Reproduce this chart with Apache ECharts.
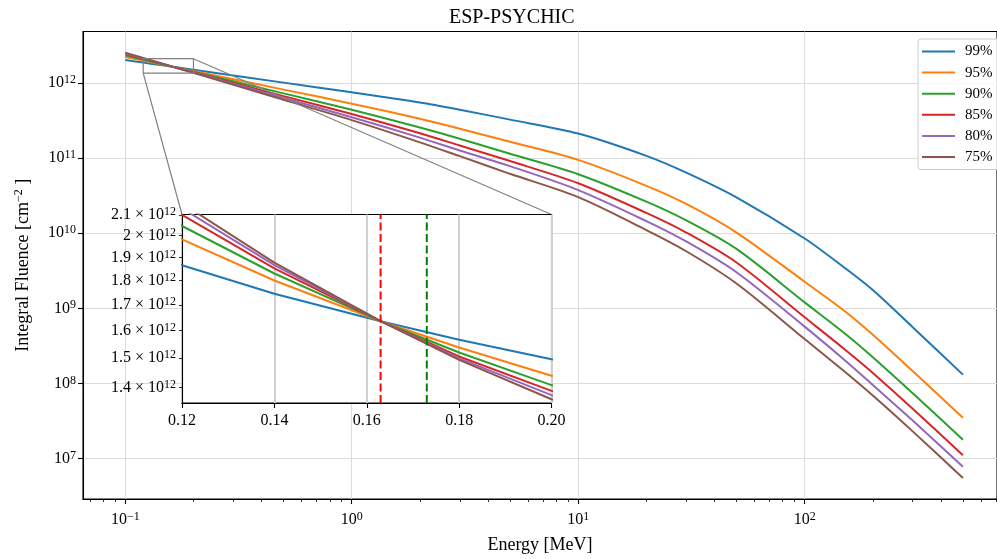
<!DOCTYPE html>
<html><head><meta charset="utf-8">
<script src="https://cdn.jsdelivr.net/npm/echarts@6/dist/echarts.min.js"></script>
<style>html,body{margin:0;padding:0;background:#fff}#c{width:997px;height:559px}</style>
</head><body><div id="c"></div>
<script>
// ---------- data ----------
const energies = [0.1, 0.12, 0.14, 0.163, 0.18, 0.2, 0.5, 1, 2, 3, 5, 10, 20, 30, 50, 100, 150, 200, 300, 500];
const seriesNames = ['99%', '95%', '90%', '85%', '80%', '75%'];
const fluence99 = [2.02e12, 1.866e12, 1.745e12, 1.636e12, 1.566e12, 1.496e12, 1.01e12, 7.52e11, 5.5e11, 4.4e11, 3.25e11, 2.12e11, 1.07e11, 6.4e10, 3.0e10, 8.5e9, 3.47e9, 1.75e9, 5.6e8, 1.31e8];
const fluence95 = [2.22e12, 1.983e12, 1.800e12, 1.636e12, 1.538e12, 1.439e12, 8.15e11, 5.3e11, 3.34e11, 2.46e11, 1.65e11, 9.45e10, 4.27e10, 2.45e10, 1.02e10, 2.26e9, 9.2e8, 4.45e8, 1.46e8, 3.5e7];
const fluence90 = [2.33e12, 2.046e12, 1.830e12, 1.636e12, 1.520e12, 1.408e12, 7.26e11, 4.4e11, 2.55e11, 1.81e11, 1.14e11, 6.1e10, 2.63e10, 1.48e10, 6.17e9, 1.2e9, 4.65e8, 2.23e8, 7.4e7, 1.78e7];
const fluence85 = [2.42e12, 2.10e12, 1.852e12, 1.636e12, 1.506e12, 1.389e12, 6.68e11, 3.85e11, 2.14e11, 1.47e11, 9.12e10, 4.62e10, 1.86e10, 1.02e10, 4.07e9, 7.6e8, 2.85e8, 1.38e8, 4.6e7, 1.11e7];
const fluence80 = [2.47e12, 2.133e12, 1.866e12, 1.636e12, 1.499e12, 1.375e12, 6.3e11, 3.5e11, 1.87e11, 1.26e11, 7.8e10, 3.75e10, 1.45e10, 7.76e9, 3.02e9, 5.7e8, 2.05e8, 9.5e7, 3.2e7, 7.8e6];
const fluence75 = [2.53e12, 2.158e12, 1.877e12, 1.636e12, 1.494e12, 1.362e12, 5.97e11, 3.2e11, 1.62e11, 1.06e11, 6.17e10, 3.02e10, 1.1e10, 5.75e9, 2.14e9, 3.9e8, 1.44e8, 6.9e7, 2.3e7, 5.5e6];

const xMajorTicks = [0.1, 1, 10, 100];
const xMinorTicks = [0.07, 0.08, 0.09, 0.2, 0.3, 0.4, 0.5, 0.6, 0.7, 0.8, 0.9, 2, 3, 4, 5, 6, 7, 8, 9, 20, 30, 40, 50, 60, 70, 80, 90, 200, 300, 400, 500, 600, 700];
const yMajorTicks = [1e7, 1e8, 1e9, 1e10, 1e11, 1e12];
const yMinorTicks = [3e6, 4e6, 5e6, 6e6, 7e6, 8e6, 9e6, 2e7, 3e7, 4e7, 5e7, 6e7, 7e7, 8e7, 9e7, 2e8, 3e8, 4e8, 5e8, 6e8, 7e8, 8e8, 9e8, 2e9, 3e9, 4e9, 5e9, 6e9, 7e9, 8e9, 9e9, 2e10, 3e10, 4e10, 5e10, 6e10, 7e10, 8e10, 9e10, 2e11, 3e11, 4e11, 5e11, 6e11, 7e11, 8e11, 9e11, 2e12, 3e12, 4e12];
const insetXTicks = [0.12, 0.14, 0.16, 0.18, 0.20];
const insetYTicks = [1.4e12, 1.5e12, 1.6e12, 1.7e12, 1.8e12, 1.9e12, 2.0e12, 2.1e12];
const insetXRange = [0.12, 0.20];
const insetYRange = [1.35e12, 2.102e12];
const markRedX = 0.163;
const markGreenX = 0.173;
const mainXRange = [0.06506, 707];
const mainYRange = [2.894e6, 4.84e12];

// ---------- styles ----------
const colors = ['#1f77b4', '#ff7f0e', '#2ca02c', '#d62728', '#9467bd', '#8c564b'];
const FF = 'Liberation Serif';
const allSeries = [fluence99, fluence95, fluence90, fluence85, fluence80, fluence75];

function powLabel(v) {
  const e = Math.round(Math.log10(v));
  return '{b|10}{s|' + (e < 0 ? '\u2212' + (-e) : e) + '}';
}
function insetYLabel(v) {
  const m = Math.round(v / 1e11) / 10;
  const t = Number.isInteger(m) ? String(m) : m.toFixed(1);
  return '{b|' + t + ' \u00d7 10}{s|12}';
}
const richPow = {
  b: { fontFamily: FF, fontSize: 16, color: '#000', lineHeight: 18 },
  s: { fontFamily: FF, fontSize: 12, color: '#000', lineHeight: 11, verticalAlign: 'top' }
};

const chart = echarts.init(document.getElementById('c'), null, { renderer: 'canvas' });

const series = [];
allSeries.forEach((arr, i) => {
  series.push({
    name: seriesNames[i], type: 'line', xAxisIndex: 0, yAxisIndex: 0,
    data: energies.map((e, k) => [e, arr[k]]),
    showSymbol: false, symbol: 'none', smooth: 0.3, clip: true,
    lineStyle: { color: colors[i], width: 2 }, itemStyle: { color: colors[i] },
    z: 2, silent: true
  });
});
// zoom box on main axes
const boxIdx = series.length;
series.push({
  type: 'line', xAxisIndex: 0, yAxisIndex: 0, symbol: 'none', silent: true, z: 4,
  data: [[insetXRange[0], insetYRange[0]], [insetXRange[1], insetYRange[0]], [insetXRange[1], insetYRange[1]], [insetXRange[0], insetYRange[1]], [insetXRange[0], insetYRange[0]]],
  lineStyle: { color: '#808080', width: 1.2 }
});
// inset series
const insetFirst = series.length;
allSeries.forEach((arr, i) => {
  series.push({
    name: seriesNames[i], type: 'line', xAxisIndex: 2, yAxisIndex: 2, zlevel: 1, z: 2,
    data: energies.map((e, k) => [e, arr[k]]),
    showSymbol: false, symbol: 'none', clip: true,
    lineStyle: { color: colors[i], width: 2 }, itemStyle: { color: colors[i] }, silent: true
  });
});
// dashed vertical markers in the inset
[[markRedX, '#ff0000'], [markGreenX, '#008000']].forEach(([x, c]) => {
  series.push({
    type: 'line', xAxisIndex: 2, yAxisIndex: 2, zlevel: 1, z: 5, symbol: 'none', silent: true, clip: true,
    data: [[x, insetYRange[0]], [x, insetYRange[1]]],
    lineStyle: { color: c, width: 2, type: [8, 3.5] }
  });
});

const option = {
  animation: false,
  backgroundColor: '#fff',
  title: { text: 'ESP-PSYCHIC', left: 449, top: 8, padding: 0,
    textStyle: { fontFamily: FF, fontSize: 20, fontWeight: 'normal', color: '#000' } },
  legend: {
    orient: 'vertical', left: 918, top: 39, icon: 'rect', itemWidth: 33, itemHeight: 2, itemGap: 6.1,
    padding: [5, 14, 5, 4], backgroundColor: 'rgba(255,255,255,0.8)', borderColor: '#cccccc',
    borderWidth: 1, borderRadius: 3, data: seriesNames,
    textStyle: { fontFamily: FF, fontSize: 15, lineHeight: 14, color: '#000', padding: [0, 0, 0, 5] }
  },
  grid: [
    { left: 83, top: 31.5, width: 915, height: 470.5, show: true, borderColor: '#000', borderWidth: 1.1, backgroundColor: 'transparent', containLabel: false },
    { left: 182, top: 214.5, width: 369.5, height: 188.5, show: true, borderColor: '#000', borderWidth: 1.1, backgroundColor: '#fff', zlevel: 1, containLabel: false }
  ],
  xAxis: [
    { type: 'log', gridIndex: 0, min: mainXRange[0], max: mainXRange[1], position: 'bottom',
      axisLine: { show: true, onZero: false, lineStyle: { color: '#000', width: 1.1 } },
      axisTick: { show: true, customValues: xMajorTicks, length: 5, lineStyle: { color: '#000', width: 1.1 } },
      axisLabel: { customValues: xMajorTicks, formatter: powLabel, margin: 12, rich: richPow },
      splitLine: { show: true, lineStyle: { color: '#dcdcdc', width: 1.1 } },
      name: 'Energy [MeV]', nameLocation: 'middle', nameGap: 37,
      nameTextStyle: { fontFamily: FF, fontSize: 18, color: '#000' } },
    { type: 'log', gridIndex: 0, min: mainXRange[0], max: mainXRange[1], position: 'bottom',
      axisLine: { show: false }, axisLabel: { show: false }, splitLine: { show: false },
      axisTick: { show: true, customValues: xMinorTicks, length: 3, lineStyle: { color: '#000', width: 0.8 } } },
    { type: 'value', gridIndex: 1, min: insetXRange[0], max: insetXRange[1], zlevel: 1,
      axisLine: { show: true, onZero: false, lineStyle: { color: '#000', width: 1.1 } },
      axisTick: { show: true, customValues: insetXTicks, length: 5, lineStyle: { color: '#000', width: 1.1 } },
      axisLabel: { customValues: insetXTicks, formatter: v => v.toFixed(2), margin: 10, fontFamily: FF, fontSize: 16, color: '#000' },
      splitLine: { show: true, lineStyle: { color: '#d0d0d0', width: 2 } } }
  ],
  yAxis: [
    { type: 'log', gridIndex: 0, min: mainYRange[0], max: mainYRange[1],
      axisLine: { show: true, onZero: false, lineStyle: { color: '#000', width: 1.1 } },
      axisTick: { show: true, customValues: yMajorTicks, length: 5, lineStyle: { color: '#000', width: 1.1 } },
      axisLabel: { customValues: yMajorTicks, formatter: powLabel, margin: 7, rich: richPow },
      splitLine: { show: true, lineStyle: { color: '#dcdcdc', width: 1.1 } },
      name: 'Integral Fluence [cm{s|\u22122} ]', nameLocation: 'middle', nameGap: 50, nameRotate: 90,
      nameTextStyle: { fontFamily: FF, fontSize: 18, color: '#000', lineHeight: 20,
        rich: { s: { fontFamily: FF, fontSize: 12, color: '#000', lineHeight: 12, verticalAlign: 'top' } } } },
    { type: 'log', gridIndex: 0, min: mainYRange[0], max: mainYRange[1],
      axisLine: { show: false }, axisLabel: { show: false }, splitLine: { show: false },
      axisTick: { show: true, customValues: yMinorTicks, length: 3, lineStyle: { color: '#000', width: 0.8 } } },
    { type: 'log', gridIndex: 1, min: insetYRange[0], max: insetYRange[1], zlevel: 1,
      axisLine: { show: true, onZero: false, lineStyle: { color: '#000', width: 1.1 } },
      axisTick: { show: true, customValues: insetYTicks, length: 3, lineStyle: { color: '#000', width: 0.8 } },
      axisLabel: { customValues: insetYTicks, formatter: insetYLabel, margin: 6, rich: richPow },
      splitLine: { show: false } }
  ],
  series: series
};
chart.setOption(option);

// connector lines from the zoom box to the inset corners
const a1 = chart.convertToPixel({ seriesIndex: boxIdx }, [insetXRange[1], insetYRange[1]]);
const b1 = chart.convertToPixel({ seriesIndex: insetFirst }, [insetXRange[1], insetYRange[1]]);
const a2 = chart.convertToPixel({ seriesIndex: boxIdx }, [insetXRange[0], insetYRange[0]]);
const b2 = chart.convertToPixel({ seriesIndex: insetFirst }, [insetXRange[0], insetYRange[1]]);
chart.setOption({
  graphic: [
    { type: 'line', silent: true, z: 50, shape: { x1: a1[0], y1: a1[1], x2: b1[0], y2: b1[1] }, style: { stroke: '#808080', lineWidth: 1.2 } },
    { type: 'line', silent: true, z: 50, shape: { x1: a2[0], y1: a2[1], x2: b2[0], y2: b2[1] }, style: { stroke: '#808080', lineWidth: 1.2 } }
  ]
});
</script></body></html>
